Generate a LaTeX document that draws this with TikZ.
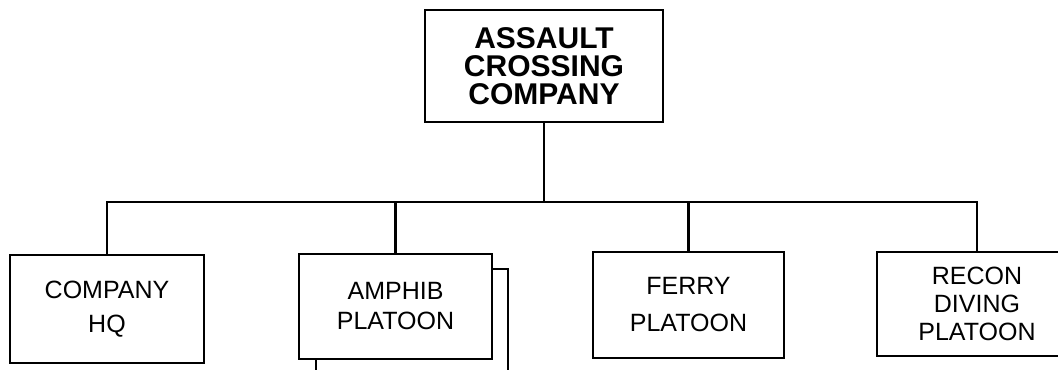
\documentclass[tikz,border=0pt]{standalone}
\usepackage{fontspec}
\setmainfont{Liberation Sans}
\usetikzlibrary{positioning}
\begin{document}
\begin{tikzpicture}[
  x=0.75pt, y=-0.75pt,
  unit/.style={draw, fill=white, line width=1.8pt, align=center, inner sep=0pt,
               font=\fontsize{18.75pt}{#1}\selectfont},
  unit/.default=25pt,
  head/.style={unit, font=\fontsize{22.5pt}{21pt}\selectfont\bfseries},
  link/.style={line width=1.8pt},
]
  \clip (0,0) rectangle (1058,369);
  % Company
  \node[head, minimum width=178.5pt, minimum height=84pt] (acc) at (544,66) {ASSAULT\\CROSSING\\COMPANY};
  \coordinate (bus) at (544,202);
  % Platoons
  \node[unit=25.5pt, minimum width=145.5pt, minimum height=81pt] (hq) at (107,309) {COMPANY\\HQ};
  \node[unit, minimum width=144pt, minimum height=78.75pt] (amphibrear) at (412,321.5) {};
  \node[unit=22.5pt, minimum width=144.75pt, minimum height=78.75pt] (amphib) at (395.5,306.5) {AMPHIB\\PLATOON};
  \node[unit=27.75pt, minimum width=143.25pt, minimum height=79.5pt] (ferry) at (688.5,305) {FERRY\\PLATOON};
  \node[unit=21pt, minimum width=150pt, minimum height=78pt] (recon) at (977,304) {RECON\\DIVING\\PLATOON};

  \draw[link] (acc) -- (bus);
  \draw[link] (hq) |- (bus);
  \draw[link] (amphib) |- (bus);
  \draw[link] (ferry) |- (bus);
  \draw[link] (recon) |- (bus);
\end{tikzpicture}
\end{document}
